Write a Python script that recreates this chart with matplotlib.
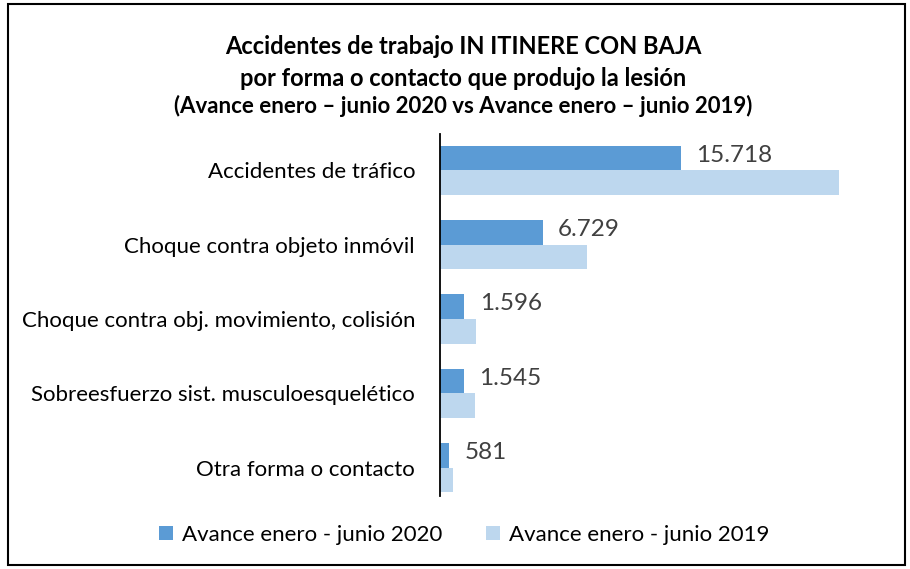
import numpy as np
import matplotlib.pyplot as plt
from matplotlib.patches import Rectangle

categorias = ["Accidentes de tráfico",
              "Choque contra objeto inmóvil",
              "Choque contra obj. movimiento, colisión",
              "Sobreesfuerzo sist. musculoesquelético",
              "Otra forma o contacto"]
avance_2020 = [15718, 6729, 1596, 1545, 581]
avance_2019 = [26100, 9600, 2380, 2280, 820]
etiquetas_2020 = ["15.718", "6.729", "1.596", "1.545", "581"]

plt.rcParams['font.family'] = ['Lato', 'DejaVu Sans']

fig = plt.figure(figsize=(9.1, 5.69), dpi=100)
ax = fig.add_axes([440 / 910, 1 - 505 / 569, 430 / 910, 372 / 569])

y = np.arange(len(categorias))
h = 0.33
ax.barh(y - h / 2, avance_2020, height=h, color="#5b9bd5", label="Avance enero - junio 2020")
ax.barh(y + h / 2, avance_2019, height=h, color="#bdd7ee", label="Avance enero - junio 2019")

for yi, v, txt in zip(y, avance_2020, etiquetas_2020):
    ax.annotate(txt, (v, yi - h / 2), xytext=(11, 2), textcoords="offset points",
                va="center", ha="left", fontsize=17.5, color="#404040")

ax.set_ylim(len(categorias) - 0.5, -0.5)
ax.set_xlim(0, 28100)
ax.set_yticks(y)
ax.set_yticklabels(categorias, fontsize=16)
ax.tick_params(axis="y", length=0, pad=18)
ax.set_xticks([])
for s in ["top", "right", "bottom"]:
    ax.spines[s].set_visible(False)
ax.spines["left"].set_linewidth(1.3)
ax.spines["left"].set_bounds(len(categorias) - 0.62, -0.48)

fig.text(0.509, 1 - 47 / 569, "Accidentes de trabajo IN ITINERE CON BAJA",
         ha="center", va="center", fontsize=17, fontweight="bold")
fig.text(0.509, 1 - 78 / 569, "por forma o contacto que produjo la lesión",
         ha="center", va="center", fontsize=17, fontweight="bold")
fig.text(0.509, 1 - 106 / 569, "(Avance enero – junio 2020 vs Avance enero – junio 2019)",
         ha="center", va="center", fontsize=16, fontweight="bold")

fig.legend(loc="center", bbox_to_anchor=(0.51, 1 - 535 / 569), ncol=2, frameon=False,
           fontsize=16, handlelength=0.6, handleheight=0.6, handletextpad=0.4,
           columnspacing=2.0)

fig.patches.append(Rectangle((8 / 910, 4 / 569), 897 / 910, 561 / 569, transform=fig.transFigure,
                             fill=False, edgecolor="black", linewidth=1.5))

fig.savefig("out.png", dpi=100)
